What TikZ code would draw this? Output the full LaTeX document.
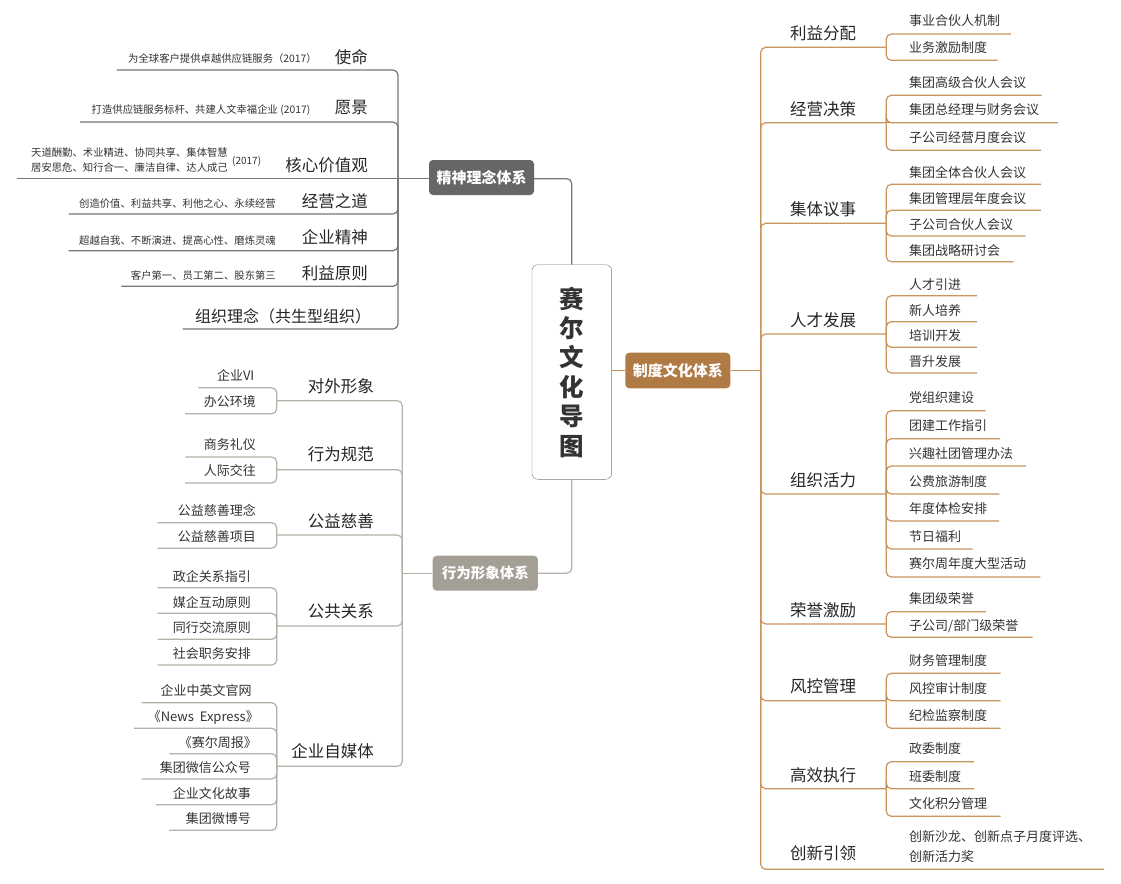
\documentclass[tikz,border=0pt]{standalone}
\usepackage{fontspec}
\setmainfont{Noto Sans CJK SC}
\definecolor{ink}{HTML}{333333}
\definecolor{orangeL}{HTML}{C9955F}
\definecolor{orangeB}{HTML}{B07A45}
\definecolor{grayL}{HTML}{777777}
\definecolor{grayB}{HTML}{666666}
\definecolor{taupeL}{HTML}{B5B1A7}
\definecolor{taupeB}{HTML}{A39F94}
\tikzset{
  conn/.style={draw=cur,line width=1.2pt,rounded corners=5pt},
  leaf/.style={inner sep=0pt,yshift=-1pt,text=ink,align=left,font=\fontsize{13}{20}\selectfont},
  small/.style={inner sep=0pt,yshift=-1pt,text=ink,align=left,font=\fontsize{10.35}{15}\selectfont},
  branch/.style={inner sep=0pt,yshift=-1pt,text=black!85,font=\fontsize{16.5}{20}\selectfont},
  sysbox/.style={rounded corners=4pt,text=white,font=\bfseries\fontsize{15}{18}\selectfont,inner sep=0pt},
}
% name, anchor, x, y, text, line end x, line y, hub
\newcommand\LF[8]{%
  \node[leaf,anchor=#2] (#1) at (#3,#4) {#5};
  \coordinate (#1-e) at (#6,#7);
  \draw[conn] (#1-e) -| (#8);
}
\newcommand\SM[8]{%
  \node[small,anchor=#2] (#1) at (#3,#4) {#5};
  \coordinate (#1-e) at (#6,#7);
  \draw[conn] (#1-e) -| (#8);
}
\newcommand\BR[6]{% name, anchor, x, y, text, hubname (branch hub coordinate defined separately)
  \node[branch,anchor=#2] (#1) at (#3,#4) {#5};
}
\begin{document}
\begin{tikzpicture}[x=1pt,y=-1pt]
\useasboundingbox[fill=white] (0,0) rectangle (1121,883);
% central node and system boxes
\node[draw=grayL,fill=white,rounded corners=6pt,minimum width=79.7pt,minimum height=214.6pt,inner sep=0pt,
      text=ink,align=center,font=\bfseries\fontsize{24.5}{29.4}\selectfont] (root) at (571.8,372) {赛\\尔\\文\\化\\导\\图};
\node[sysbox,fill=grayB,minimum width=105pt,minimum height=35pt] (sysA) at (481.5,177.5) {精神理念体系};
\node[sysbox,fill=taupeB,minimum width=105.3pt,minimum height=35pt,font=\bfseries\fontsize{14.5}{18}\selectfont] (sysB) at (485.3,573.2) {行为形象体系};
\node[sysbox,fill=orangeB,minimum width=105pt,minimum height=35.6pt] (sysC) at (677.8,370.5) {制度文化体系};

% ---------- upper left
\begin{scope}
\colorlet{cur}{grayL}
\coordinate (hubA) at (398,178.7);
\draw[conn] (sysA.east |- hubA) -| (root.north);
\BR{a1}{east}{368}{56}{使命}{}
\BR{a2}{east}{368}{107}{愿景}{}
\BR{a3}{east}{368}{164}{核心价值观}{}
\BR{a4}{east}{368}{200}{经营之道}{}
\BR{a5}{east}{368}{236}{企业精神}{}
\BR{a6}{east}{368}{272}{利益原则}{}
\node[branch,anchor=west,font=\fontsize{16}{20}\selectfont] (a7) at (195,315) {组织理念（共生型组织）};
\SM{a1t}{east}{317}{58}{为全球客户提供卓越供应链服务（2017）}{116.7}{70}{hubA}
\SM{a2t}{east}{310.5}{109.5}{打造供应链服务标杆、共建人文幸福企业 (2017)}{80}{122}{hubA}
\node[small,anchor=east] (a3t) at (228,159.5) {天道酬勤、术业精进、协同共享、集体智慧\\居安思危、知行合一、廉洁自律、达人成己};
\node[small,anchor=west,font=\fontsize{10}{12}\selectfont] (a3y) at (232,160) {(2017)};
\coordinate (a3-e) at (17,178.7);
\draw[conn] (a3-e) -- (sysA.west |- hubA);
\SM{a4t}{east}{276}{203}{创造价值、利益共享、利他之心、永续经营}{68.5}{214}{hubA}
\SM{a5t}{east}{276}{239.5}{超越自我、不断演进、提高心性、磨炼灵魂}{68.5}{250.7}{hubA}
\SM{a6t}{east}{276}{275}{客户第一、员工第二、股东第三}{121.3}{286.3}{hubA}
\coordinate (a7-e) at (182.5,329);
\draw[conn] (a7-e) -| (hubA);
\end{scope}

% ---------- lower left
\begin{scope}
\colorlet{cur}{taupeL}
\coordinate (hubB) at (402.3,573.2);
\draw[conn] (sysB.east) -| (root.south);
\draw[conn] (sysB.west) -- (hubB);
\BR{b1}{east}{374}{385}{对外形象}{}
\BR{b2}{east}{374}{453}{行为规范}{}
\BR{b3}{east}{374}{520}{公益慈善}{}
\BR{b4}{east}{374}{610.7}{公共关系}{}
\BR{b5}{east}{374}{750.5}{企业自媒体}{}
\coordinate (hb1) at (276.7,400.7);
\coordinate (hb2) at (276.7,469.7);
\coordinate (hb3) at (276.7,535);
\coordinate (hb4) at (276.7,626);
\coordinate (hb5) at (276.7,766.3);
\foreach \h in {hb1,hb2,hb3,hb4,hb5} {\draw[conn] (\h) -| (hubB);}
\LF{b11}{east}{254.5}{374}{企业VI}{198.3}{387.7}{hb1}
\LF{b12}{east}{256}{400.7}{办公环境}{185}{413.7}{hb1}
\LF{b21}{east}{256}{443.3}{商务礼仪}{185.3}{457}{hb2}
\LF{b22}{east}{256}{470}{人际交往}{185}{483}{hb2}
\LF{b31}{east}{256}{509}{公益慈善理念}{157.7}{522.7}{hb3}
\LF{b32}{east}{256}{536}{公益慈善项目}{157.7}{548.3}{hb3}
\LF{b41}{east}{251}{575.7}{政企关系指引}{157.7}{587.7}{hb4}
\LF{b42}{east}{251}{601.3}{媒企互动原则}{157.7}{613.3}{hb4}
\LF{b43}{east}{251}{627}{同行交流原则}{157.7}{639.3}{hb4}
\LF{b44}{east}{251}{652.7}{社会职务安排}{157.7}{665}{hb4}
\LF{b51}{east}{251.7}{690}{企业中英文官网}{141.7}{702.7}{hb5}
\LF{b52}{east}{259}{716}{《News\ \ Express》}{134}{728.3}{hb5}
\LF{b53}{east}{257}{741.7}{《赛尔周报》}{169.3}{753.7}{hb5}
\LF{b54}{east}{251}{767}{集团微信公众号}{141.7}{779}{hb5}
\LF{b55}{east}{251}{792.7}{企业文化故事}{156}{804.7}{hb5}
\LF{b56}{east}{251}{818}{集团微博号}{169}{830.3}{hb5}
\end{scope}

% ---------- right
\begin{scope}
\colorlet{cur}{orangeL}
\coordinate (hubC) at (760.7,370.5);
\draw[conn] (root.east |- hubC) -- (sysC.west);
\draw[conn] (sysC.east) -- (hubC);
\BR{c1}{west}{790}{32}{利益分配}{}
\BR{c2}{west}{790}{108}{经营决策}{}
\BR{c3}{west}{790}{208}{集体议事}{}
\BR{c4}{west}{790}{319}{人才发展}{}
\BR{c5}{west}{790}{479}{组织活力}{}
\BR{c6}{west}{790}{609}{荣誉激励}{}
\BR{c7}{west}{790}{685}{风控管理}{}
\BR{c8}{west}{790}{774}{高效执行}{}
\BR{c9}{west}{790}{852}{创新引领}{}
\coordinate (hc1) at (886.3,47.3);
\coordinate (hc2) at (886.3,122.7);
\coordinate (hc3) at (886.3,223.3);
\coordinate (hc4) at (886.3,334);
\coordinate (hc5) at (886.3,494);
\coordinate (hc6) at (886.3,624);
\coordinate (hc7) at (886.3,700.7);
\coordinate (hc8) at (886.3,788.7);
\foreach \h in {hc1,hc2,hc3,hc4,hc5,hc6,hc7,hc8} {\draw[conn] (\h) -| (hubC);}
\LF{c11}{west}{909}{20}{事业合伙人机制}{1011}{34}{hc1}
\LF{c12}{west}{909}{47}{业务激励制度}{997.7}{60.3}{hc1}
\LF{c21}{west}{909}{82}{集团高级合伙人会议}{1041.7}{95.3}{hc2}
\LF{c22}{west}{909}{109}{集团总经理与财务会议}{1057.7}{122.7}{hc2}
\draw[conn] (c22-e) -- (hc2);
\LF{c23}{west}{909}{137}{子公司经营月度会议}{1041}{150.3}{hc2}
\LF{c31}{west}{909}{172}{集团全体合伙人会议}{1041}{184.3}{hc3}
\LF{c32}{west}{909}{198}{集团管理层年度会议}{1041}{210.3}{hc3}
\LF{c33}{west}{909}{224}{子公司合伙人会议}{1025.7}{236}{hc3}
\LF{c34}{west}{909}{250}{集团战略研讨会}{1013.3}{261.7}{hc3}
\LF{c41}{west}{909}{284}{人才引进}{977}{295.7}{hc4}
\LF{c42}{west}{909}{310}{新人培养}{977}{321.7}{hc4}
\LF{c43}{west}{909}{335}{培训开发}{977}{347.3}{hc4}
\LF{c44}{west}{909}{361}{晋升发展}{977}{373}{hc4}
\LF{c51}{west}{909}{397}{党组织建设}{985.7}{410.7}{hc5}
\LF{c52}{west}{909}{425}{团建工作指引}{1000}{438.7}{hc5}
\LF{c53}{west}{909}{452.5}{兴趣社团管理办法}{1026}{466}{hc5}
\LF{c54}{west}{909}{480.5}{公费旅游制度}{999.3}{494}{hc5}
\LF{c55}{west}{909}{508}{年度体检安排}{999}{521}{hc5}
\LF{c56}{west}{909}{535.5}{节日福利}{972.7}{549}{hc5}
\LF{c57}{west}{909}{563}{赛尔周年度大型活动}{1040.3}{577}{hc5}
\LF{c61}{west}{909}{598}{集团级荣誉}{986}{611.7}{hc6}
\LF{c62}{west}{909}{625}{子公司/部门级荣誉}{1032.7}{637.3}{hc6}
\LF{c71}{west}{909}{660}{财务管理制度}{1000.7}{673.3}{hc7}
\LF{c72}{west}{909}{688}{风控审计制度}{1000.7}{700.7}{hc7}
\LF{c73}{west}{909}{715}{纪检监察制度}{1000.7}{728.3}{hc7}
\LF{c81}{west}{909}{748}{政委制度}{974}{761.7}{hc8}
\LF{c82}{west}{909}{776}{班委制度}{974}{788.7}{hc8}
\LF{c83}{west}{909}{802.5}{文化积分管理}{1000.7}{816.3}{hc8}
\node[leaf,anchor=west] (c91) at (909,846) {创新沙龙、创新点子月度评选、\\创新活力奖};
\coordinate (c91-e) at (1104,869.3);
\draw[conn] (c91-e) -| (hubC);
\end{scope}
\end{tikzpicture}
\end{document}
